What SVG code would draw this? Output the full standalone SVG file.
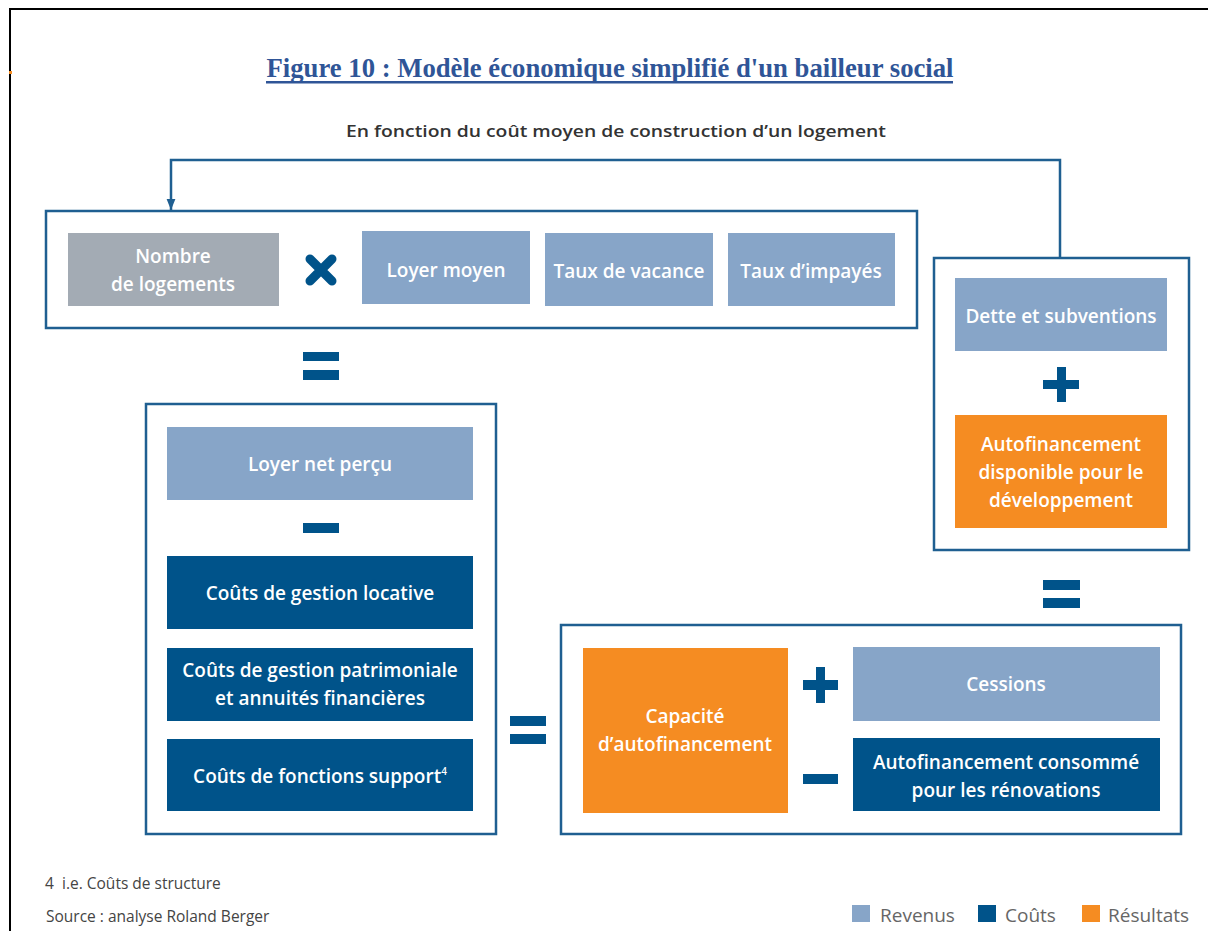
<svg xmlns="http://www.w3.org/2000/svg" width="1208" height="931" viewBox="0 0 1208 931">
<defs>
<style>
.frame{fill:none;stroke:#1f5f91;stroke-width:2.5}
.rev{fill:#87a5c8}
.grey{fill:#a3abb4}
.cost{fill:#00538a}
.res{fill:#f58c22}
.op{fill:#00538a}
.lbl{font-family:"Open Sans","Noto Sans",sans-serif;font-weight:600;font-size:19px;fill:#ffffff;text-anchor:middle}
.conn{fill:none;stroke:#1f5f91;stroke-width:2.5}
.foot{font-family:"Open Sans","Noto Sans",sans-serif;font-size:15.5px;fill:#444}
.leg{font-family:"Open Sans","Noto Sans",sans-serif;font-size:19px;fill:#666}
</style>
<marker id="arr" viewBox="0 0 10 8" refX="10" refY="4" markerWidth="4.5" markerHeight="5.6" orient="auto" markerUnits="strokeWidth">
<path d="M0,0 L10,4 L0,8 z" fill="#1f5f91"/>
</marker>
</defs>
<rect width="1208" height="931" fill="#ffffff"/>
<path d="M10,931 V9 H1208" fill="none" stroke="#000" stroke-width="2"/>
<rect x="9" y="71" width="3" height="3" fill="#f58c22"/>

<g id="title">
<text x="610" y="77" text-anchor="middle" font-family="Liberation Serif, serif" font-weight="bold" font-size="27px" fill="#2f5597" textLength="687" lengthAdjust="spacingAndGlyphs">Figure 10 : Modèle économique simplifié d'un bailleur social</text>
<rect x="266" y="81" width="687" height="2.5" fill="#2f5597"/>
</g>
<g id="subtitle">
<text x="616" y="137" text-anchor="middle" font-family="Open Sans, Noto Sans, sans-serif" font-weight="600" font-size="16.5px" fill="#333" textLength="540" lengthAdjust="spacingAndGlyphs">En fonction du coût moyen de construction d’un logement</text>
</g>

<g id="connectors">
<path class="conn" d="M1060,258 V160 H171 V210" marker-end="url(#arr)"/>
</g>

<g id="box-top">
<rect class="frame" x="46" y="211" width="871" height="117"/>
<g id="n-nombre">
<rect class="grey" x="68" y="233" width="211" height="73"/>
<text class="lbl" x="173" y="263">Nombre</text>
<text class="lbl" x="173" y="291">de logements</text>
</g>
<g id="op-times">
<path d="M310,259 L332,281 M332,259 L310,281" stroke="#00538a" stroke-width="9" stroke-linecap="round"/>
</g>
<g id="n-loyer-moyen">
<rect class="rev" x="362" y="231" width="168" height="73"/>
<text class="lbl" x="446" y="277">Loyer moyen</text>
</g>
<g id="n-vacance">
<rect class="rev" x="545" y="233" width="168" height="73"/>
<text class="lbl" x="629" y="278">Taux de vacance</text>
</g>
<g id="n-impayes">
<rect class="rev" x="728" y="233" width="167" height="73"/>
<text class="lbl" x="811" y="278">Taux d’impayés</text>
</g>
</g>

<g id="op-eq1">
<rect class="op" x="303" y="352" width="36" height="9"/>
<rect class="op" x="303" y="370" width="36" height="10"/>
</g>

<g id="box-left">
<rect class="frame" x="146" y="404" width="350" height="430"/>
<g id="n-loyer-net">
<rect class="rev" x="167" y="427" width="306" height="73"/>
<text class="lbl" x="320" y="471">Loyer net perçu</text>
</g>
<rect class="op" x="303" y="523" width="36" height="10"/>
<g id="n-gestion-locative">
<rect class="cost" x="167" y="556" width="306" height="73"/>
<text class="lbl" x="320" y="600">Coûts de gestion locative</text>
</g>
<g id="n-gestion-patrimoniale">
<rect class="cost" x="167" y="648" width="306" height="73"/>
<text class="lbl" x="320" y="677">Coûts de gestion patrimoniale</text>
<text class="lbl" x="320" y="705">et annuités financières</text>
</g>
<g id="n-fonctions-support">
<rect class="cost" x="167" y="739" width="306" height="72"/>
<text class="lbl" x="320" y="783">Coûts de fonctions support<tspan font-size="10px" dy="-8">4</tspan></text>
</g>
</g>

<g id="op-eq2">
<rect class="op" x="510" y="716" width="36" height="10"/>
<rect class="op" x="510" y="734" width="36" height="10"/>
</g>

<g id="box-bottom-right">
<rect class="frame" x="561" y="625" width="620" height="209"/>
<g id="n-caf">
<rect class="res" x="583" y="648" width="205" height="165"/>
<text class="lbl" x="685" y="723">Capacité</text>
<text class="lbl" x="685" y="751">d’autofinancement</text>
</g>
<g id="op-plus1">
<rect class="op" x="816" y="667" width="9" height="36"/>
<rect class="op" x="803" y="680" width="35" height="10"/>
</g>
<g id="n-cessions">
<rect class="rev" x="853" y="647" width="307" height="74"/>
<text class="lbl" x="1006" y="691">Cessions</text>
</g>
<rect class="op" x="803" y="774" width="35" height="10"/>
<g id="n-renovations">
<rect class="cost" x="853" y="738" width="307" height="73"/>
<text class="lbl" x="1006" y="769">Autofinancement consommé</text>
<text class="lbl" x="1006" y="797">pour les rénovations</text>
</g>
</g>

<g id="op-eq3">
<rect class="op" x="1043" y="580" width="37" height="10"/>
<rect class="op" x="1043" y="598" width="37" height="10"/>
</g>

<g id="box-right">
<rect class="frame" x="934" y="258" width="255" height="292"/>
<g id="n-dette">
<rect class="rev" x="955" y="278" width="212" height="73"/>
<text class="lbl" x="1061" y="323">Dette et subventions</text>
</g>
<g id="op-plus2">
<rect class="op" x="1057" y="367" width="9" height="35"/>
<rect class="op" x="1043" y="380" width="36" height="9"/>
</g>
<g id="n-dispo">
<rect class="res" x="955" y="415" width="212" height="113"/>
<text class="lbl" x="1061" y="451">Autofinancement</text>
<text class="lbl" x="1061" y="479">disponible pour le</text>
<text class="lbl" x="1061" y="507">développement</text>
</g>
</g>

<g id="footnotes">
<text class="foot" x="45" y="889">4<tspan x="62">i.e. Coûts de structure</tspan></text>
<text class="foot" x="46" y="922">Source : analyse Roland Berger</text>
</g>

<g id="legend">
<rect class="rev" x="852" y="905" width="18" height="17"/>
<text class="leg" x="880" y="922">Revenus</text>
<rect class="cost" x="978" y="905" width="18" height="17"/>
<text class="leg" x="1005" y="922">Coûts</text>
<rect class="res" x="1082" y="905" width="18" height="17"/>
<text class="leg" x="1108" y="922">Résultats</text>
</g>
</svg>
